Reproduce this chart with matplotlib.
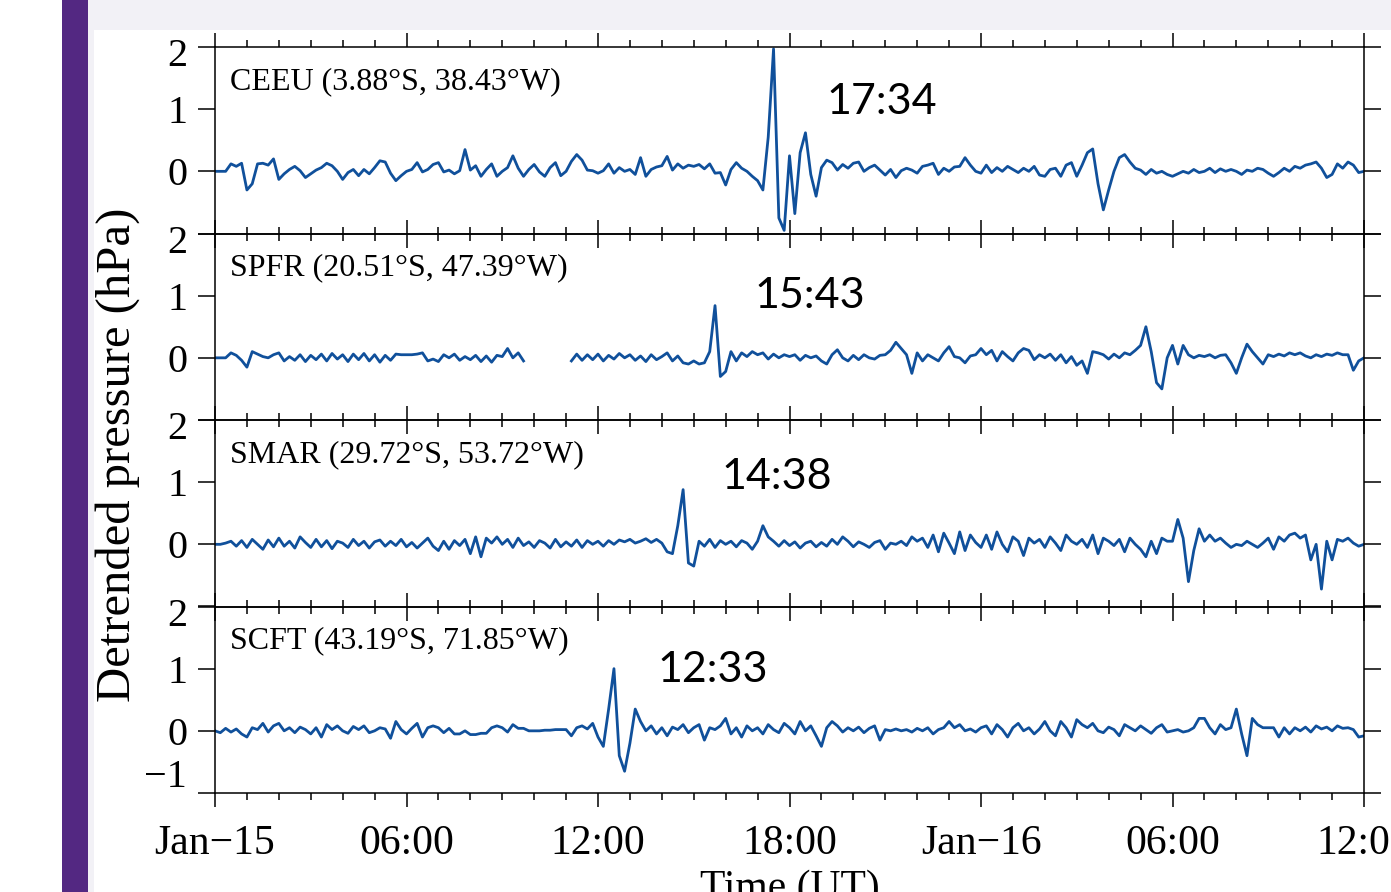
import numpy as np
import matplotlib.pyplot as plt
from matplotlib.patches import Rectangle

# detrended pressure, one value every 10 minutes from Jan-15 00:00 to Jan-16 12:00
ceeu = [
    0.00, 0.00, 0.00, 0.12, 0.08, 0.13,
    -0.30, -0.20, 0.12, 0.13, 0.10, 0.20,
    -0.13, -0.04, 0.03, 0.08, 0.01, -0.10,
    -0.04, 0.02, 0.06, 0.13, 0.09, 0.00,
    -0.13, -0.02, 0.03, -0.07, 0.03, -0.04,
    0.06, 0.17, 0.15, -0.03, -0.15, -0.07,
    0.00, 0.03, 0.14, -0.01, 0.03, 0.11,
    0.14, -0.01, 0.02, -0.04, 0.01, 0.35,
    0.02, 0.09, -0.08, 0.03, 0.12, -0.08,
    0.00, 0.06, 0.25, 0.05, -0.08, 0.03,
    0.11, -0.01, -0.08, 0.06, 0.14, -0.07,
    0.00, 0.16, 0.27, 0.18, 0.02, 0.01,
    -0.03, 0.01, 0.12, -0.03, 0.06, 0.00,
    0.03, -0.05, 0.22, -0.08, 0.03, 0.07,
    0.09, 0.24, 0.02, 0.12, 0.05, 0.10,
    0.08, 0.11, 0.04, 0.12, -0.03, -0.02,
    -0.22, 0.03, 0.14, 0.05, 0.00, -0.08,
    -0.15, -0.30, 0.55, 1.97, -0.75, -0.95,
    0.25, -0.68, 0.30, 0.62, -0.05, -0.40,
    0.06, 0.18, 0.14, 0.02, 0.11, 0.05,
    0.13, 0.15, 0.00, 0.06, 0.10, 0.02,
    -0.06, 0.03, -0.10, 0.01, 0.05, 0.02,
    -0.03, 0.08, 0.10, 0.13, -0.05, 0.05,
    0.00, 0.07, 0.08, 0.22, 0.10, 0.00,
    -0.03, 0.10, -0.02, 0.06, 0.00, 0.08,
    0.03, -0.02, 0.05, 0.00, 0.08, -0.06,
    -0.08, 0.03, 0.05, -0.08, 0.10, 0.14,
    -0.08, 0.10, 0.30, 0.36, -0.20, -0.62,
    -0.30, 0.00, 0.22, 0.27, 0.15, 0.05,
    0.02, -0.05, 0.03, -0.03, 0.00, -0.05,
    -0.08, -0.04, 0.00, -0.03, 0.03, -0.02,
    0.00, 0.05, -0.02, 0.04, 0.00, 0.03,
    0.00, -0.05, 0.02, 0.00, 0.05, 0.03,
    -0.03, -0.08, -0.02, 0.05, 0.00, 0.08,
    0.05, 0.10, 0.12, 0.15, 0.05, -0.10,
    -0.05, 0.12, 0.05, 0.15, 0.10, -0.02,
    0.00]

nan = np.nan
spfr = [
    0.00, 0.00, 0.00, 0.08, 0.04, -0.04,
    -0.15, 0.10, 0.06, 0.02, 0.00, 0.05,
    0.08, -0.05, 0.02, -0.04, 0.05, -0.06,
    0.04, -0.03, 0.06, -0.05, 0.07, -0.02,
    0.05, -0.06, 0.06, -0.03, 0.07, -0.05,
    0.05, -0.07, 0.04, -0.04, 0.06, 0.05,
    0.05, 0.05, 0.06, 0.08, -0.05, -0.02,
    -0.06, 0.05, 0.00, 0.06, -0.04, 0.02,
    -0.03, 0.04, -0.06, 0.03, -0.07, 0.04,
    0.02, 0.15, 0.00, 0.08, -0.05, nan,
    nan, nan, nan, nan, nan, nan,
    nan, -0.05, 0.06, -0.04, 0.05, -0.03,
    0.06, -0.05, 0.04, -0.02, 0.07, 0.00,
    0.05, -0.04, 0.03, -0.06, 0.05, -0.03,
    0.02, 0.08, -0.05, 0.03, -0.08, -0.10,
    -0.05, -0.10, -0.08, 0.10, 0.84, -0.30,
    -0.22, 0.10, -0.05, 0.08, 0.02, 0.10,
    0.05, 0.08, -0.02, 0.06, 0.00, 0.05,
    0.02, 0.05, -0.04, 0.04, 0.00, 0.03,
    -0.05, -0.10, 0.05, 0.13, 0.00, -0.05,
    0.04, -0.03, 0.05, 0.00, -0.02, 0.04,
    0.05, 0.12, 0.25, 0.15, 0.05, -0.25,
    0.08, -0.05, 0.05, 0.00, -0.05, 0.08,
    0.18, 0.02, 0.00, -0.08, 0.03, 0.05,
    0.15, 0.05, 0.12, -0.05, 0.10, 0.02,
    -0.05, 0.08, 0.15, 0.12, -0.03, 0.05,
    0.00, 0.06, -0.04, 0.05, -0.08, 0.02,
    -0.12, -0.05, -0.25, 0.10, 0.08, 0.05,
    -0.02, 0.06, 0.00, 0.08, 0.05, 0.12,
    0.20, 0.50, 0.10, -0.40, -0.50, 0.00,
    0.20, -0.10, 0.20, 0.05, 0.00, 0.04,
    0.02, 0.05, 0.00, 0.04, 0.05, -0.08,
    -0.25, 0.00, 0.22, 0.10, 0.00, -0.10,
    0.05, 0.02, 0.06, 0.03, 0.08, 0.05,
    0.08, 0.03, 0.00, 0.05, 0.02, 0.06,
    0.04, 0.08, 0.05, 0.05, -0.20, -0.05,
    0.00]

smar = [
    0.00, 0.00, 0.02, 0.05, -0.03, 0.06,
    -0.05, 0.08, 0.00, -0.08, 0.07, -0.04,
    0.10, -0.03, 0.05, -0.06, 0.12, 0.03,
    -0.05, 0.08, -0.04, 0.06, -0.07, 0.05,
    0.02, -0.05, 0.08, -0.02, 0.05, -0.06,
    0.04, 0.07, -0.03, 0.05, -0.02, 0.08,
    -0.04, 0.03, -0.06, 0.02, 0.10, -0.03,
    -0.10, 0.05, -0.08, 0.06, -0.02, 0.08,
    -0.15, 0.12, -0.20, 0.10, 0.02, 0.12,
    0.00, 0.08, -0.05, 0.10, -0.02, 0.04,
    -0.05, 0.06, 0.02, -0.06, 0.08, -0.04,
    0.04, -0.03, 0.07, -0.05, 0.06, 0.00,
    0.05, -0.03, 0.06, 0.00, 0.07, 0.04,
    0.08, 0.02, 0.05, 0.09, 0.03, 0.08,
    0.02, -0.12, -0.15, 0.30, 0.88, -0.30,
    -0.35, 0.05, -0.03, 0.08, -0.05, 0.06,
    0.00, 0.05, -0.04, 0.06, 0.02, -0.08,
    0.05, 0.30, 0.12, 0.05, -0.03, 0.06,
    -0.02, 0.04, -0.06, 0.02, 0.05, -0.04,
    0.03, -0.03, 0.08, 0.00, 0.12, 0.05,
    -0.04, 0.04, 0.00, -0.05, 0.03, 0.06,
    -0.08, 0.02, 0.00, 0.05, -0.02, 0.12,
    0.05, 0.10, -0.05, 0.15, -0.12, 0.18,
    0.02, -0.15, 0.20, -0.10, 0.15, 0.03,
    -0.05, 0.15, -0.08, 0.20, 0.00, -0.12,
    0.12, 0.05, -0.18, 0.10, 0.02, 0.08,
    -0.05, 0.12, 0.02, -0.10, 0.15, 0.05,
    0.00, 0.08, -0.05, 0.15, -0.15, 0.10,
    0.05, -0.02, 0.08, -0.12, 0.10, 0.00,
    -0.08, -0.20, 0.05, -0.15, 0.10, 0.05,
    0.05, 0.40, 0.10, -0.60, -0.10, 0.25,
    0.05, 0.15, 0.05, 0.10, 0.02, -0.05,
    0.00, -0.02, 0.05, 0.00, -0.05, 0.02,
    0.10, -0.08, 0.12, 0.05, 0.15, 0.18,
    0.10, 0.15, -0.25, 0.00, -0.72, 0.05,
    -0.25, 0.08, 0.05, 0.10, 0.02, -0.03,
    0.00]

scft = [
    0.00, -0.03, 0.04, -0.02, 0.03, -0.05,
    -0.10, 0.05, 0.02, 0.12, -0.02, 0.08,
    0.12, 0.00, 0.05, -0.03, 0.06, 0.02,
    -0.05, 0.05, -0.10, 0.10, 0.02, 0.08,
    0.00, -0.04, 0.07, 0.02, 0.08, -0.03,
    0.00, 0.05, 0.03, -0.12, 0.15, 0.02,
    -0.05, 0.04, 0.12, -0.10, 0.05, 0.08,
    0.05, -0.03, 0.04, -0.05, -0.05, 0.00,
    -0.06, -0.06, -0.04, -0.04, 0.05, 0.08,
    0.05, -0.02, 0.10, 0.04, 0.04, 0.00,
    0.00, 0.00, 0.01, 0.01, 0.02, 0.02,
    0.02, -0.08, 0.05, 0.08, 0.03, 0.12,
    -0.10, -0.25, 0.35, 1.00, -0.40, -0.65,
    -0.20, 0.35, 0.15, 0.00, 0.08, -0.05,
    0.05, -0.08, 0.06, 0.02, 0.10, -0.03,
    0.05, 0.10, -0.15, 0.05, 0.02, 0.08,
    0.20, -0.05, 0.05, -0.10, 0.08, 0.00,
    0.05, -0.05, 0.10, 0.02, -0.03, 0.12,
    0.05, -0.05, 0.15, 0.00, 0.08, -0.08,
    -0.25, 0.05, 0.15, 0.08, -0.02, 0.05,
    0.00, 0.06, -0.03, 0.04, 0.08, -0.15,
    0.02, 0.00, 0.03, 0.00, 0.02, -0.02,
    0.04, 0.00, 0.05, -0.05, 0.02, 0.05,
    0.15, 0.05, 0.10, 0.00, 0.03, -0.02,
    0.05, 0.08, -0.05, 0.10, 0.02, -0.10,
    0.05, 0.12, 0.00, 0.05, -0.05, 0.03,
    0.15, 0.00, -0.08, 0.15, 0.05, -0.10,
    0.18, 0.10, 0.05, 0.12, 0.00, -0.03,
    0.06, 0.02, -0.08, 0.10, 0.05, 0.00,
    0.08, 0.02, -0.04, 0.05, 0.10, -0.02,
    0.00, 0.02, -0.02, 0.00, 0.05, 0.20,
    0.20, 0.05, -0.05, 0.10, 0.02, 0.05,
    0.35, -0.05, -0.40, 0.20, 0.10, 0.05,
    0.05, 0.05, -0.10, 0.05, -0.05, 0.05,
    0.00, 0.06, -0.02, 0.08, 0.03, 0.06,
    0.00, 0.08, 0.04, 0.05, 0.02, -0.10,
    -0.08]

stations = ['CEEU (3.88°S, 38.43°W)', 'SPFR (20.51°S, 47.39°W)',
            'SMAR (29.72°S, 53.72°W)', 'SCFT (43.19°S, 71.85°W)']
arrivals = ['17:34', '15:43', '14:38', '12:33']
arrival_pos = [(20.9, 1.11), (18.65, 1.0), (17.6, 1.08), (15.6, 0.98)]
xtick_labels = ['Jan−15', '06:00', '12:00', '18:00', 'Jan−16', '06:00', '12:00']
series = [ceeu, spfr, smar, scft]

hours = np.arange(len(ceeu)) / 6.0

W, H = 1391, 892
fig = plt.figure(figsize=(W / 100, H / 100), dpi=100)
fig.patch.set_facecolor('white')


def fx(px):
    return px / W


def fy(py):
    return 1 - py / H


gray = '#f2f1f6'
fig.patches.append(Rectangle((fx(88), fy(30)), 1 - fx(88), 30 / H, transform=fig.transFigure,
                             facecolor=gray, edgecolor='none', zorder=0))
fig.patches.append(Rectangle((fx(88), 0), fx(94) - fx(88), fy(30), transform=fig.transFigure,
                             facecolor=gray, edgecolor='none', zorder=0))
fig.patches.append(Rectangle((fx(62), 0), fx(88) - fx(62), 1, transform=fig.transFigure,
                             facecolor='#532882', edgecolor='none', zorder=1))

serif = 'Liberation Serif'
top0, ph = 47, 186.5
line_color = '#10509b'

for i, vals in enumerate(series):
    ax = fig.add_axes([fx(215), fy(top0 + (i + 1) * ph), fx(1364) - fx(215), ph / H])
    ax.patch.set_visible(False)
    ax.plot(hours, vals, color=line_color, lw=2.0)
    ax.set_xlim(0, 36)
    ax.set_ylim(-1, 2)
    ax.set_xticks(np.arange(0, 37, 6))
    ax.set_xticks(np.arange(0, 37, 1), minor=True)
    ax.set_yticks([-1, 0, 1, 2])
    ax.set_yticklabels(['', '0', '1', ''], fontfamily=serif, fontsize=29)
    ax.tick_params(axis='x', which='both', direction='out', top=True, bottom=True, width=1.1)
    ax.tick_params(axis='x', which='major', length=10)
    ax.tick_params(axis='x', which='minor', length=5)
    ax.tick_params(axis='y', direction='out', left=True, right=True, length=12, width=1.1, pad=8)
    for s in ax.spines.values():
        s.set_linewidth(1.1)
    if i == 3:
        ax.set_xticklabels(xtick_labels, fontfamily=serif, fontsize=30)
        ax.tick_params(axis='x', which='major', pad=13)
        ax.set_xlabel('Time (UT)', fontfamily=serif, fontsize=30, labelpad=4)
        ax.annotate('−1', xy=(0, -1), xycoords=('axes fraction', 'data'), xytext=(-20, 11),
                    textcoords='offset points', ha='right', va='center',
                    fontfamily=serif, fontsize=29)
    else:
        ax.set_xticklabels([])
    ax.annotate('2', xy=(0, 2), xycoords=('axes fraction', 'data'), xytext=(-20, -7),
                textcoords='offset points', ha='right', va='center',
                fontfamily=serif, fontsize=29)
    ax.text(0.013, 0.815, stations[i], transform=ax.transAxes, ha='left', va='center',
            fontfamily=serif, fontsize=23)
    ax.text(arrival_pos[i][0], arrival_pos[i][1], arrivals[i], ha='center', va='center',
            fontfamily='Lato', fontsize=31)

fig.text(fx(118), fy(455), 'Detrended pressure (hPa)', rotation=90, ha='center', va='center',
         fontfamily=serif, fontsize=35)

fig.savefig('out.png', dpi=100)
